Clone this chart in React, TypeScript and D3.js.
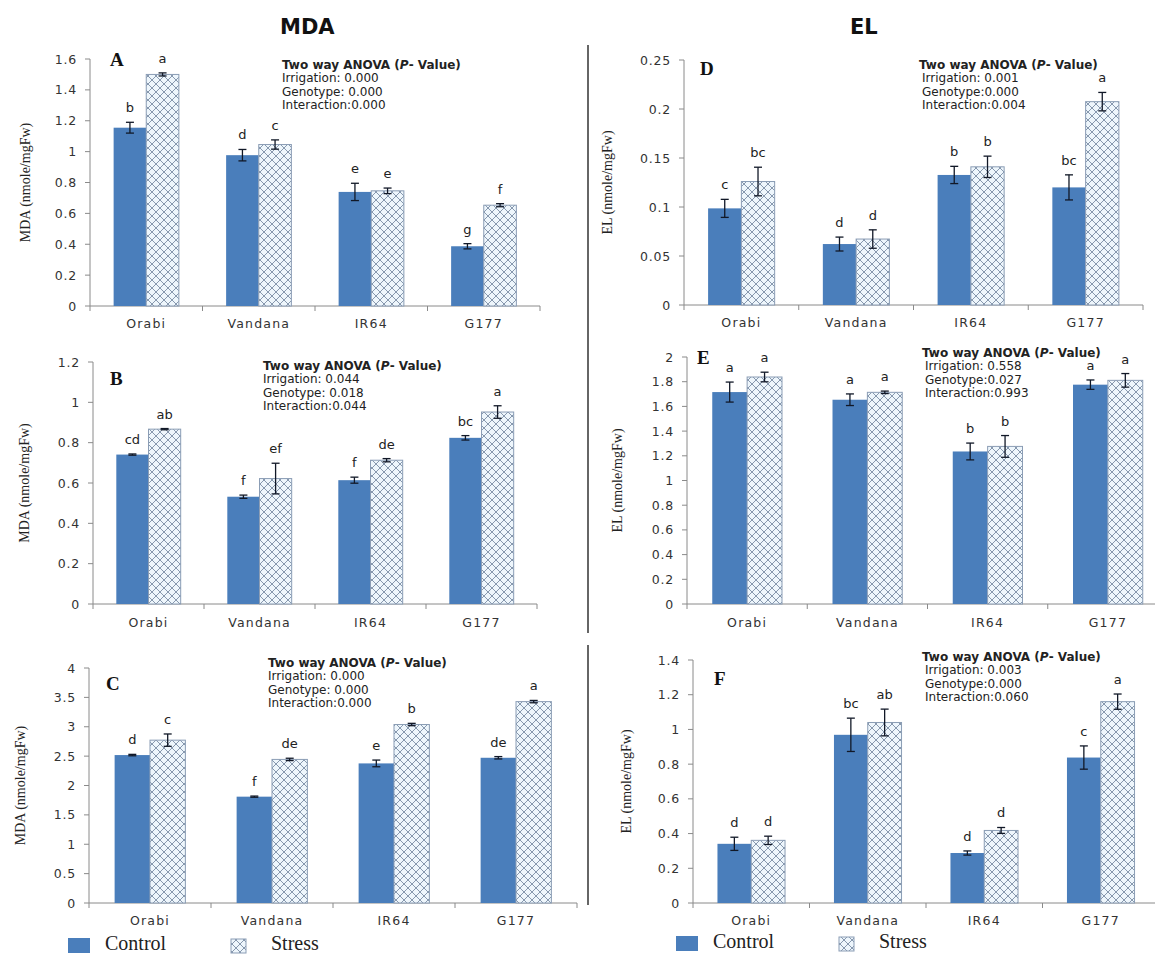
import React from 'react';
import * as d3 from 'd3';

// genotypes on the x axis of every panel
const categories = ['Orabi', 'Vandana', 'IR64', 'G177'];
const seriesNames = ['Control', 'Stress'];

// Panel A - MDA
const aControl = [1.155, 0.977, 0.739, 0.387];
const aStress = [1.5, 1.046, 0.746, 0.653];
const aControlErr = [0.035, 0.037, 0.056, 0.017];
const aStressErr = [0.01, 0.03, 0.018, 0.01];
const aControlLetters = ['b', 'd', 'e', 'g'];
const aStressLetters = ['a', 'c', 'e', 'f'];
const aTicks = [0, 0.2, 0.4, 0.6, 0.8, 1, 1.2, 1.4, 1.6];
const aAnova = ['0.000', '0.000', '0.000'];

// Panel B - MDA
const bControl = [0.741, 0.532, 0.614, 0.824];
const bStress = [0.867, 0.622, 0.713, 0.952];
const bControlErr = [0.003, 0.008, 0.015, 0.011];
const bStressErr = [0.003, 0.076, 0.008, 0.031];
const bControlLetters = ['cd', 'f', 'f', 'bc'];
const bStressLetters = ['ab', 'ef', 'de', 'a'];
const bTicks = [0, 0.2, 0.4, 0.6, 0.8, 1, 1.2];
const bAnova = ['0.044', '0.018', '0.044'];

// Panel C - MDA
const cControl = [2.518, 1.81, 2.376, 2.472];
const cStress = [2.772, 2.444, 3.038, 3.428];
const cControlErr = [0.012, 0.01, 0.057, 0.02];
const cStressErr = [0.105, 0.02, 0.02, 0.02];
const cControlLetters = ['d', 'f', 'e', 'de'];
const cStressLetters = ['c', 'de', 'b', 'a'];
const cTicks = [0, 0.5, 1, 1.5, 2, 2.5, 3, 3.5, 4];
const cAnova = ['0.000', '0.000', '0.000'];

// Panel D - EL
const dControl = [0.0986, 0.0622, 0.1327, 0.12];
const dStress = [0.126, 0.0673, 0.141, 0.2075];
const dControlErr = [0.0092, 0.0071, 0.0088, 0.0128];
const dStressErr = [0.0146, 0.0094, 0.0109, 0.0094];
const dControlLetters = ['c', 'd', 'b', 'bc'];
const dStressLetters = ['bc', 'd', 'b', 'a'];
const dTicks = [0, 0.05, 0.1, 0.15, 0.2, 0.25];
const dAnova = ['0.001', '0.000', '0.004'];

// Panel E - EL
const eControl = [1.716, 1.654, 1.235, 1.776];
const eStress = [1.838, 1.714, 1.276, 1.811];
const eControlErr = [0.081, 0.047, 0.068, 0.038];
const eStressErr = [0.039, 0.01, 0.088, 0.055];
const eControlLetters = ['a', 'a', 'b', 'a'];
const eStressLetters = ['a', 'a', 'b', 'a'];
const eTicks = [0, 0.2, 0.4, 0.6, 0.8, 1, 1.2, 1.4, 1.6, 1.8, 2];
const eAnova = ['0.558', '0.027', '0.993'];

// Panel F - EL
const fControl = [0.341, 0.969, 0.288, 0.838];
const fStress = [0.361, 1.04, 0.418, 1.16];
const fControlErr = [0.038, 0.096, 0.012, 0.067];
const fStressErr = [0.024, 0.077, 0.017, 0.044];
const fControlLetters = ['d', 'bc', 'd', 'c'];
const fStressLetters = ['d', 'ab', 'd', 'a'];
const fTicks = [0, 0.2, 0.4, 0.6, 0.8, 1, 1.2, 1.4];
const fAnova = ['0.003', '0.000', '0.060'];

const SANS = '"DejaVu Sans", Verdana, sans-serif';
const SERIF = '"Liberation Serif", "Times New Roman", serif';
const BLUE = '#4a7ebb';
const AXIS = '#8a8a8a';

type PanelProps = {
  tag: string;
  yLabel: string;
  control: number[];
  stress: number[];
  controlErr: number[];
  stressErr: number[];
  controlLetters: string[];
  stressLetters: string[];
  ticks: number[];
  anova: string[];
  genoSpace: boolean;
  x0: number;
  x1: number;
  yTop: number;
  yBottom: number;
  yLabelX: number;
  anovaX: number;
  anovaY: number;
  tagX: number;
  tagY: number;
  catY: number;
};

const fmt = (d: number) => String(+d.toFixed(2));

const Panel = (p: PanelProps) => {
  const yMax = p.ticks[p.ticks.length - 1];
  const y = d3.scaleLinear().domain([0, yMax]).range([p.yBottom, p.yTop]);
  const x = d3
    .scaleBand<string>()
    .domain(categories)
    .range([p.x0, p.x1])
    .paddingInner(0.42)
    .paddingOuter(0.21);
  const inner = d3.scaleBand<string>().domain(seriesNames).range([0, x.bandwidth()]);
  const step = x.step();
  const bounds = d3.range(categories.length + 1).map((i) => p.x0 + i * step);

  const series = [
    { key: 'Control', vals: p.control, errs: p.controlErr, letters: p.controlLetters },
    { key: 'Stress', vals: p.stress, errs: p.stressErr, letters: p.stressLetters },
  ];
  const indent = p.genoSpace ? 0 : 3;

  return (
    <g>
      {/* y axis */}
      <line x1={p.x0} x2={p.x0} y1={y(0)} y2={y(yMax)} stroke={AXIS} />
      {p.ticks.map((t) => (
        <g key={t}>
          <line x1={p.x0 - 5} x2={p.x0} y1={y(t)} y2={y(t)} stroke={AXIS} />
          <text
            x={p.x0 - 13}
            y={y(t)}
            dy="0.36em"
            textAnchor="end"
            fontFamily={SANS}
            fontSize={12.5}
            letterSpacing={0.8}
            fill="#333"
          >
            {fmt(t)}
          </text>
        </g>
      ))}
      {/* x axis */}
      <line x1={p.x0} x2={p.x1} y1={y(0)} y2={y(0)} stroke={AXIS} />
      {bounds.map((b, i) => (
        <line key={i} x1={b} x2={b} y1={y(0)} y2={y(0) + 5} stroke={AXIS} />
      ))}
      {categories.map((c) => (
        <text
          key={c}
          x={(x(c) as number) + x.bandwidth() / 2}
          y={p.catY}
          textAnchor="middle"
          fontFamily={SANS}
          fontSize={12.5}
          letterSpacing={1.2}
          fill="#333"
        >
          {c}
        </text>
      ))}
      {/* bars */}
      {series.map((s) =>
        categories.map((c, i) => {
          const bx = (x(c) as number) + (inner(s.key) as number);
          const bw = inner.bandwidth();
          const top = y(s.vals[i]);
          const cx = bx + bw / 2;
          const eTop = y(s.vals[i] + s.errs[i]);
          const eBot = y(s.vals[i] - s.errs[i]);
          return (
            <g key={s.key + c}>
              <rect
                x={bx}
                y={top}
                width={bw}
                height={y(0) - top}
                fill={s.key === 'Control' ? BLUE : 'url(#hatch)'}
                stroke={s.key === 'Control' ? 'none' : '#8b9db5'}
                strokeWidth={1}
              />
              <line x1={cx} x2={cx} y1={eTop} y2={eBot} stroke="#111827" strokeWidth={1.3} />
              <line x1={cx - 4} x2={cx + 4} y1={eTop} y2={eTop} stroke="#111827" strokeWidth={1.3} />
              <line x1={cx - 4} x2={cx + 4} y1={eBot} y2={eBot} stroke="#111827" strokeWidth={1.3} />
              <text
                x={cx}
                y={eTop - 10}
                textAnchor="middle"
                fontFamily={SANS}
                fontSize={13}
                fill="#222"
              >
                {s.letters[i]}
              </text>
            </g>
          );
        })
      )}
      {/* panel tag */}
      <text x={p.tagX} y={p.tagY} fontFamily={SERIF} fontWeight="bold" fontSize={19} fill="#111">
        {p.tag}
      </text>
      {/* ANOVA box */}
      <g fontFamily={SANS} fontSize={12} fill="#222">
        <text x={p.anovaX} y={p.anovaY} fontWeight="bold">
          Two way ANOVA (<tspan fontStyle="italic">P</tspan>- Value)
        </text>
        <text x={p.anovaX + indent} y={p.anovaY + 13.3}>
          Irrigation: {p.anova[0]}
        </text>
        <text x={p.anovaX + indent} y={p.anovaY + 26.6}>
          {p.genoSpace ? 'Genotype: ' : 'Genotype:'}
          {p.anova[1]}
        </text>
        <text x={p.anovaX + indent} y={p.anovaY + 39.9}>
          Interaction:{p.anova[2]}
        </text>
      </g>
      {/* y label */}
      <text
        transform={`translate(${p.yLabelX},${(p.yTop + p.yBottom) / 2}) rotate(-90)`}
        textAnchor="middle"
        fontFamily={SERIF}
        fontSize={14}
        fill="#222"
      >
        {p.yLabel}
      </text>
    </g>
  );
};

const Legend = ({ x, y }: { x: number; y: number }) => (
  <g>
    <rect x={x} y={y} width={22} height={15} fill={BLUE} />
    <text x={x + 37} y={y + 12} fontFamily={SERIF} fontSize={20} fill="#222">
      Control
    </text>
    <rect x={x + 163} y={y + 1} width={15} height={14} fill="url(#hatch)" stroke="#8b9db5" />
    <text x={x + 203} y={y + 12} fontFamily={SERIF} fontSize={20} fill="#222">
      Stress
    </text>
  </g>
);

export default function App() {
  return (
    <svg
      width={1155}
      height={956}
      style={{ position: 'absolute', left: 0, top: 0, background: '#fff' }}
    >
      <defs>
        <pattern id="hatch" width={8} height={8} patternUnits="userSpaceOnUse">
          <rect width={8} height={8} fill="#eef6fc" />
          <path d="M0,0 L8,8 M8,0 L0,8" stroke="#8798ae" strokeWidth={1} />
        </pattern>
      </defs>
      <rect width={1155} height={956} fill="#fff" />
      <text x={280} y={34} fontFamily={SANS} fontWeight="bold" fontSize={21} fill="#111">
        MDA
      </text>
      <text x={850} y={34} fontFamily={SANS} fontWeight="bold" fontSize={21} fill="#111">
        EL
      </text>
      <line x1={588} x2={588} y1={45} y2={633} stroke="#333" strokeWidth={1.5} />
      <line x1={588} x2={588} y1={645} y2={905} stroke="#333" strokeWidth={1.5} />

      <Panel
        tag="A" yLabel="MDA (nmole/mgFw)"
        control={aControl} stress={aStress} controlErr={aControlErr} stressErr={aStressErr}
        controlLetters={aControlLetters} stressLetters={aStressLetters}
        ticks={aTicks} anova={aAnova} genoSpace
        x0={90} x1={540} yTop={59} yBottom={306} yLabelX={30}
        anovaX={282} anovaY={69} tagX={110} tagY={66} catY={328}
      />
      <Panel
        tag="B" yLabel="MDA (nmole/mgFw)"
        control={bControl} stress={bStress} controlErr={bControlErr} stressErr={bStressErr}
        controlLetters={bControlLetters} stressLetters={bStressLetters}
        ticks={bTicks} anova={bAnova} genoSpace
        x0={93} x1={537} yTop={362} yBottom={604} yLabelX={29}
        anovaX={263} anovaY={370} tagX={110} tagY={385} catY={627}
      />
      <Panel
        tag="C" yLabel="MDA (nmole/mgFw)"
        control={cControl} stress={cStress} controlErr={cControlErr} stressErr={cStressErr}
        controlLetters={cControlLetters} stressLetters={cStressLetters}
        ticks={cTicks} anova={cAnova} genoSpace
        x0={89} x1={577} yTop={668} yBottom={903} yLabelX={25}
        anovaX={268} anovaY={667} tagX={106} tagY={690} catY={925}
      />
      <Panel
        tag="D" yLabel="EL (nmole/mgFw)"
        control={dControl} stress={dStress} controlErr={dControlErr} stressErr={dStressErr}
        controlLetters={dControlLetters} stressLetters={dStressLetters}
        ticks={dTicks} anova={dAnova} genoSpace={false}
        x0={684} x1={1143} yTop={60} yBottom={305} yLabelX={612}
        anovaX={919} anovaY={69} tagX={700} tagY={75} catY={327}
      />
      <Panel
        tag="E" yLabel="EL (nmole/mgFw)"
        control={eControl} stress={eStress} controlErr={eControlErr} stressErr={eStressErr}
        controlLetters={eControlLetters} stressLetters={eStressLetters}
        ticks={eTicks} anova={eAnova} genoSpace={false}
        x0={687} x1={1168} yTop={357} yBottom={604} yLabelX={622}
        anovaX={922} anovaY={357} tagX={697} tagY={364} catY={627}
      />
      <Panel
        tag="F" yLabel="EL (nmole/mgFw)"
        control={fControl} stress={fStress} controlErr={fControlErr} stressErr={fStressErr}
        controlLetters={fControlLetters} stressLetters={fStressLetters}
        ticks={fTicks} anova={fAnova} genoSpace={false}
        x0={693} x1={1159} yTop={660} yBottom={903} yLabelX={631}
        anovaX={922} anovaY={661} tagX={714} tagY={685} catY={925}
      />

      <Legend x={68} y={938} />
      <Legend x={676} y={936} />
    </svg>
  );
}
